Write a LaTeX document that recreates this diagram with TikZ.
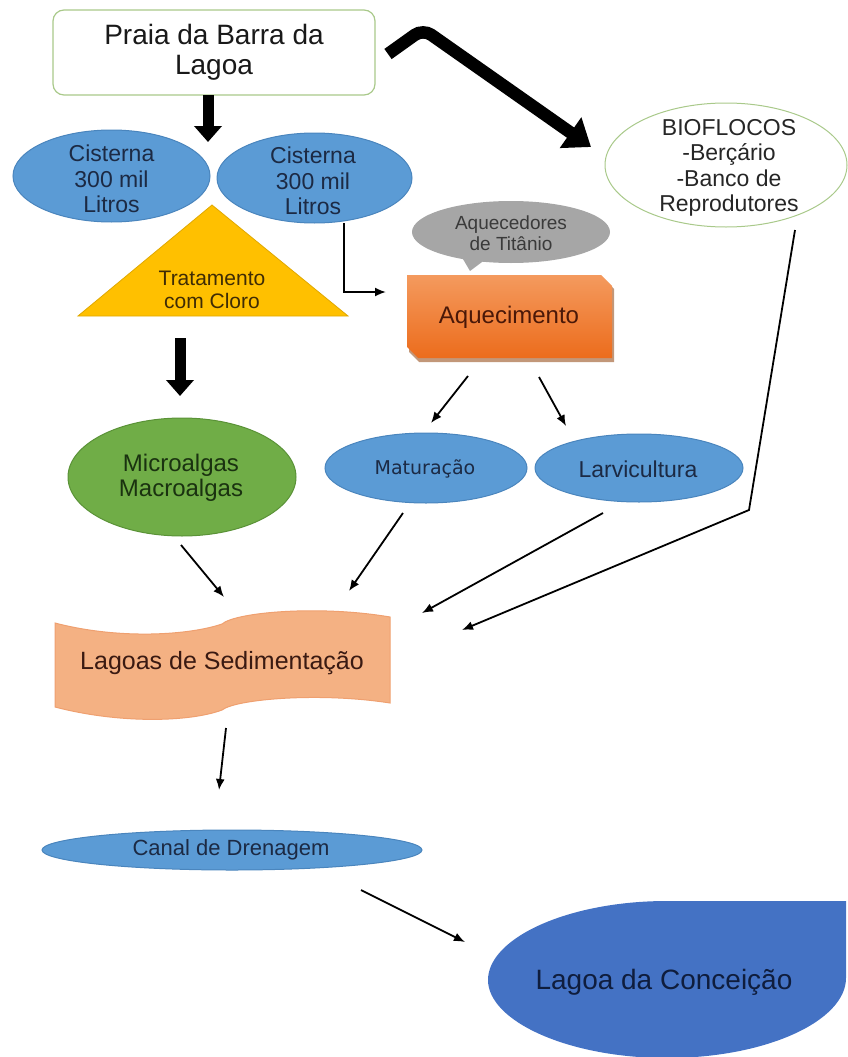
\documentclass[tikz,border=0pt]{standalone}
\usepackage{fontspec}
\setmainfont{Liberation Sans}
\newfontfamily\dejavu{DejaVu Sans}
\usetikzlibrary{arrows.meta}
\definecolor{cblue}{HTML}{5B9BD5}
\definecolor{cblueD}{HTML}{4A85BD}
\definecolor{cgreen}{HTML}{70AD47}
\definecolor{cgreenD}{HTML}{5A9237}
\definecolor{cgold}{HTML}{FFC000}
\definecolor{cgoldD}{HTML}{E0A800}
\definecolor{cgray}{HTML}{A6A6A6}
\definecolor{corL}{HTML}{F49A5E}
\definecolor{corD}{HTML}{EC6C1C}
\definecolor{cshadow}{HTML}{A86A40}
\definecolor{csalmon}{HTML}{F4B183}
\definecolor{csalmonD}{HTML}{EFA070}
\definecolor{cdeep}{HTML}{4472C4}
\definecolor{cbord}{HTML}{A9C98A}
\definecolor{tnavy}{HTML}{1C2A44}
\definecolor{tbrown}{HTML}{3F2C05}
\definecolor{tred}{HTML}{4A1808}
\definecolor{tgreen}{HTML}{1A3210}
\definecolor{tsal}{HTML}{3A1A12}
\definecolor{tgray}{HTML}{3A3A3A}
\definecolor{tdeep}{HTML}{0F1D3D}
\tikzset{
  txt/.style={align=center, inner sep=0pt},
  thinarr/.style={line width=1.8pt, -{Latex[length=11pt,width=9pt]}},
  thickarr/.style={line width=11pt, -{Triangle[length=16pt,width=27pt]}},
}
\begin{document}
\begin{tikzpicture}[x=1pt,y=-1pt]
\useasboundingbox (0,0) rectangle (848,1057);

% Praia da Barra da Lagoa
\node[draw=cbord, line width=1.2pt, fill=white, rounded corners=11pt,
      minimum width=322pt, minimum height=85pt, txt,
      font=\fontsize{28}{30}\selectfont, text=black!90] (praia) at (214,52.5)
      {Praia da Barra da\\Lagoa};

% thick arrow to cisterns
\coordinate (t1s) at (208,95);
\coordinate (t1e) at (208,142);
\draw[thickarr] (t1s) -- (t1e);

% bent thick arrow to BIOFLOCOS
\coordinate (b1) at (388,54);
\coordinate (b2) at (423,29);
\coordinate (b3) at (591,147);
\draw[line width=12.5pt, rounded corners=10pt, -{Triangle[length=25pt,width=36pt]}] (b1) -- (b2) -- (b3);

% triangle
\draw[cgoldD, line width=0.8pt, fill=cgold] (212,205) -- (348,316) -- (78,316) -- cycle;
\node[txt, text=tbrown, font=\fontsize{21}{23}\selectfont] (trat) at (212,290) {Tratamento\\com Cloro};

% cisterns
\draw[cblueD, line width=1pt, fill=cblue] (111.5,176) ellipse [x radius=98.5pt, y radius=46pt];
\node[txt, text=tnavy, font=\fontsize{23}{25.5}\selectfont] (cis1) at (111.5,179) {Cisterna\\300 mil\\Litros};
\draw[cblueD, line width=1pt, fill=cblue] (314.5,178) ellipse [x radius=97.5pt, y radius=45pt];
\node[txt, text=tnavy, font=\fontsize{23}{25.5}\selectfont] (cis2) at (313,181) {Cisterna\\300 mil\\Litros};

% BIOFLOCOS
\draw[cbord, line width=1pt, fill=white] (726,165) ellipse [x radius=121pt, y radius=62pt];
\node[txt, text=black!85, font=\fontsize{23}{25.5}\selectfont] (bio) at (729,168) {BIOFLOCOS\\-Berçário\\-Banco de\\Reprodutores};

% callout
\fill[cgray] (511,232) ellipse [x radius=99pt, y radius=31pt];
\fill[cgray] (460,254) -- (490,256) -- (470,271) -- cycle;
\node[txt, text=tgray, font=\fontsize{19}{20.5}\selectfont] (aqd) at (511,233) {Aquecedores\\de Titânio};

% Aquecimento
\fill[cshadow!70] (409,279) -- (604,279) -- (614,289) -- (614,362) -- (419,362) -- (409,352) -- cycle;
\shade[top color=corL, bottom color=corD] (407,275) -- (601,275) -- (612,286) -- (612,358) -- (418,358) -- (407,347) -- cycle;
\node[txt, text=tred, font=\fontsize{24}{26}\selectfont] (aq) at (509,317) {Aquecimento};

% elbow connector
\coordinate (e1) at (344,223);
\coordinate (e2) at (386,292);
\draw[thinarr] (e1) |- (e2);

% thick arrow 2
\coordinate (t2s) at (180,338);
\coordinate (t2e) at (180,396);
\draw[thickarr] (t2s) -- (t2e);

% Microalgas
\draw[cgreenD, line width=1pt, fill=cgreen] (182,477) ellipse [x radius=114pt, y radius=59pt];
\node[txt, text=tgreen, font=\fontsize{24}{25}\selectfont] (micro) at (181,478) {Microalgas\\Macroalgas};

% Maturacao / Larvicultura
\draw[cblueD, line width=1pt, fill=cblue] (426,468) ellipse [x radius=101pt, y radius=35pt];
\node[txt, text=tnavy, font=\dejavu\fontsize{19}{21}\selectfont] (mat) at (425,469) {Maturação};
\draw[cblueD, line width=1pt, fill=cblue] (639,468) ellipse [x radius=104pt, y radius=34pt];
\node[txt, text=tnavy, font=\fontsize{23}{25}\selectfont] (larv) at (638,469) {Larvicultura};

% arrows from Aquecimento
\coordinate (a1s) at (468,376); \coordinate (a1e) at (431,423);
\coordinate (a2s) at (539,377); \coordinate (a2e) at (566,426);
\draw[thinarr] (a1s) -- (a1e);
\draw[thinarr] (a2s) -- (a2e);

% Lagoas de Sedimentacao (wave)
\draw[csalmonD, line width=1pt, fill=csalmon]
  (55,623) .. controls (120,640) and (190,635) .. (222,624)
  .. controls (236,612) and (320,605) .. (390,617)
  -- (390,703)
  .. controls (320,692) and (236,699) .. (222,710)
  .. controls (190,722) and (120,724) .. (55,707) -- cycle;
\node[txt, text=tsal, font=\fontsize{25}{27}\selectfont] (lag) at (222,663) {Lagoas de Sedimentação};

% arrows into Lagoas
\coordinate (a3s) at (181,545); \coordinate (a3e) at (224,597);
\coordinate (a4s) at (403,513); \coordinate (a4e) at (349,591);
\coordinate (a5s) at (603,513); \coordinate (a5e) at (422,613);
\coordinate (a6s) at (795,230); \coordinate (a6m) at (749,510); \coordinate (a6e) at (462,630);
\draw[thinarr] (a3s) -- (a3e);
\draw[thinarr] (a4s) -- (a4e);
\draw[thinarr] (a5s) -- (a5e);
\draw[thinarr] (a6s) -- (a6m) -- (a6e);

% Canal de Drenagem
\draw[cblueD, line width=1pt, fill=cblue] (232,850) ellipse [x radius=190pt, y radius=20pt];
\node[txt, text=tnavy, font=\fontsize{22}{24}\selectfont] (canal) at (231,850) {Canal de Drenagem};
\coordinate (a7s) at (226,728); \coordinate (a7e) at (219,790);
\draw[thinarr] (a7s) -- (a7e);

% Lagoa da Conceicao (teardrop)
\fill[cdeep] (846,901) -- (846,978)
  .. controls (846,1021) and (766,1058) .. (667,1058)
  .. controls (568,1058) and (488,1021) .. (488,980)
  .. controls (488,938) and (568,901) .. (667,901) -- cycle;
\node[txt, text=tdeep, font=\fontsize{28}{30}\selectfont] (conc) at (664,982) {Lagoa da Conceição};
\coordinate (a8s) at (361,890); \coordinate (a8e) at (465,942);
\draw[thinarr] (a8s) -- (a8e);
\end{tikzpicture}
\end{document}
